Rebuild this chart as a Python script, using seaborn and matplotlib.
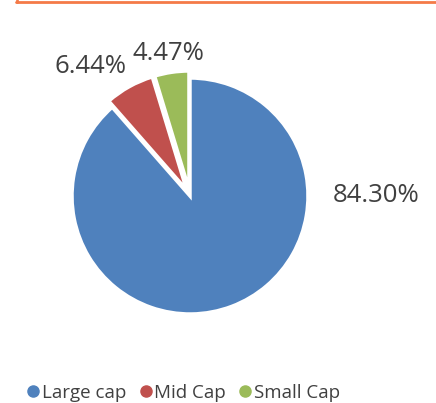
import matplotlib
matplotlib.use('Agg')
import matplotlib.pyplot as plt
import seaborn as sns
from matplotlib.lines import Line2D

# data
categories = ['Large cap', 'Mid Cap', 'Small Cap']
shares = [84.30, 6.44, 4.47]
labels = ['84.30%', '6.44%', '4.47%']
colors = ['#4F81BD', '#C0504D', '#9BBB59']

sns.set_theme(style='white')
plt.rcParams['font.family'] = ['Open Sans', 'DejaVu Sans']

fig = plt.figure(figsize=(4.36, 4.03), dpi=100)
W, H = 436, 403
cx, cy, r = 190, 403 - 196, 118
lim = 1.2
ax = fig.add_axes([(cx - r * lim) / W, (cy - r * lim) / H, 2 * r * lim / W, 2 * r * lim / H])

wedges, _ = ax.pie(shares, colors=colors, startangle=90, counterclock=False,
                   explode=[0, 0.06, 0.06],
                   wedgeprops=dict(edgecolor='white', linewidth=2.5))
ax.set_xlim(-lim, lim)
ax.set_ylim(-lim, lim)
ax.set_aspect('equal')
ax.axis('off')

# label positions (Excel style)
label_pos = [(1.58, 0.0), (-0.84, 1.10), (-0.18, 1.21)]
for txt, (x, y) in zip(labels, label_pos):
    ax.text(x, y, txt, ha='center', va='center', fontsize=18.5, color='#404040', clip_on=False)

# orange frame edge at the top
fig.add_artist(Line2D([16 / W, 1], [1 - 1.5 / H, 1 - 1.5 / H], color='#F47A48', lw=2))
fig.add_artist(Line2D([17 / W, 17 / W], [1 - 1.5 / H, 1], color='#F47A48', lw=2))

handles = [Line2D([], [], marker='o', linestyle='', color=c, markersize=8) for c in colors]
fig.legend(handles, categories, loc='center left', bbox_to_anchor=(0.02, 0.025),
           ncol=3, frameon=False, fontsize=13.5, handletextpad=0.05, handlelength=0.8,
           columnspacing=0.65, labelcolor='#404040')

fig.savefig('out.png', dpi=100)
